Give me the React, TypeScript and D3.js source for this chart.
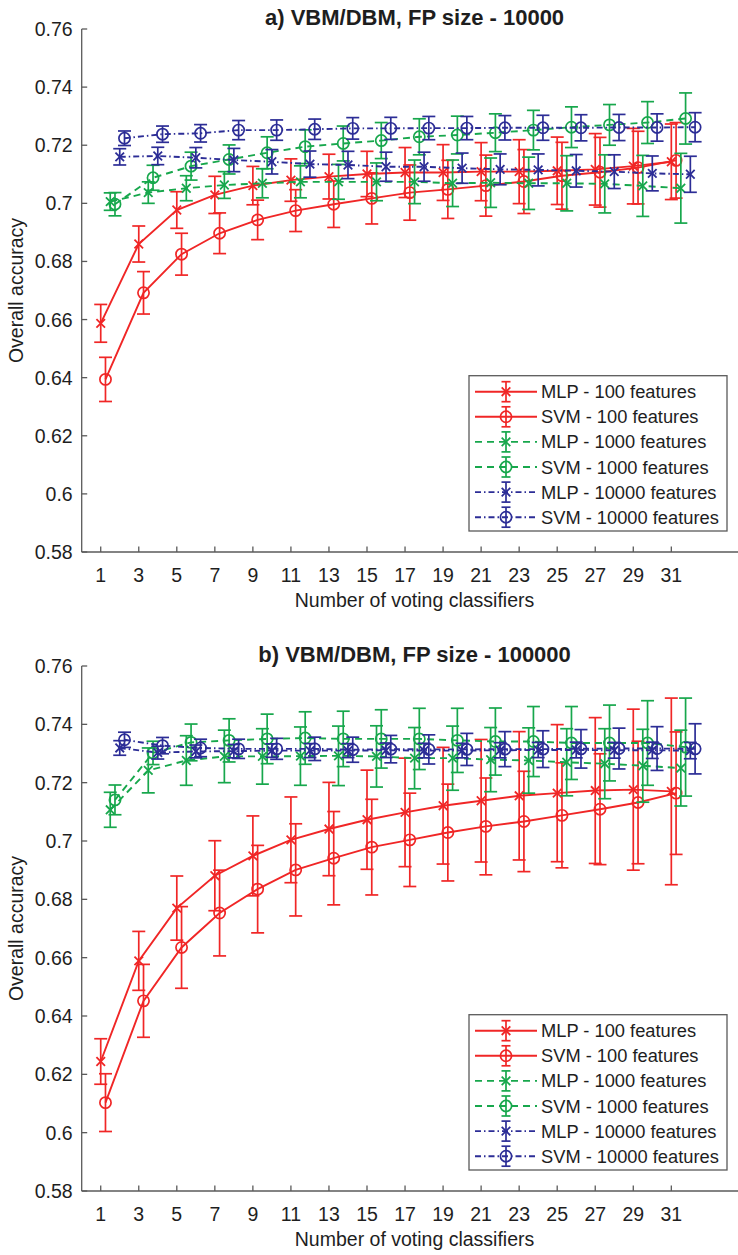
import React from 'react';
import * as d3 from 'd3';

// ---------- data ----------
const CLASSIFIERS = [1, 3, 5, 7, 9, 11, 13, 15, 17, 19, 21, 23, 25, 27, 29, 31];
const Y_TICKS = [0.58, 0.6, 0.62, 0.64, 0.66, 0.68, 0.7, 0.72, 0.74, 0.76];
const SERIES_NAMES = [
  'MLP - 100 features',
  'SVM - 100 features',
  'MLP - 1000 features',
  'SVM - 1000 features',
  'MLP - 10000 features',
  'SVM - 10000 features',
];
const TITLE_A = 'a) VBM/DBM, FP size - 10000';
const TITLE_B = 'b) VBM/DBM, FP size - 100000';
const X_LABEL = 'Number of voting classifiers';
const Y_LABEL = 'Overall accuracy';

// Panel a (FP size 10000)
const A_MLP100 = [0.6587, 0.6860, 0.6977, 0.7029, 0.7061, 0.7080, 0.7092, 0.7101, 0.7106, 0.7106, 0.7109, 0.7109, 0.7112, 0.7117, 0.7128, 0.7143];
const A_MLP100_ERR = [0.0065, 0.0062, 0.0063, 0.0064, 0.0066, 0.0073, 0.0077, 0.0078, 0.0086, 0.0096, 0.0100, 0.0110, 0.0116, 0.0123, 0.0130, 0.0130];
const A_SVM100 = [0.6394, 0.6692, 0.6825, 0.6897, 0.6943, 0.6975, 0.6997, 0.7017, 0.7037, 0.7048, 0.7061, 0.7075, 0.7095, 0.7107, 0.7123, 0.7148];
const A_SVM100_ERR = [0.0076, 0.0073, 0.0072, 0.0070, 0.0068, 0.0072, 0.0080, 0.0088, 0.0095, 0.0100, 0.0105, 0.0110, 0.0115, 0.0120, 0.0125, 0.0130];
const A_MLP1000 = [0.7006, 0.7037, 0.7052, 0.7063, 0.7069, 0.7074, 0.7074, 0.7074, 0.7074, 0.7069, 0.7071, 0.7069, 0.7069, 0.7067, 0.7060, 0.7052];
const A_MLP1000_ERR = [0.0030, 0.0037, 0.0043, 0.0046, 0.0050, 0.0055, 0.0060, 0.0065, 0.0075, 0.0080, 0.0085, 0.0090, 0.0095, 0.0100, 0.0105, 0.0120];
const A_SVM1000 = [0.6997, 0.7088, 0.7128, 0.7151, 0.7174, 0.7195, 0.7206, 0.7216, 0.7229, 0.7235, 0.7243, 0.7252, 0.7262, 0.7270, 0.7278, 0.7292];
const A_SVM1000_ERR = [0.0040, 0.0043, 0.0048, 0.0050, 0.0055, 0.0058, 0.0060, 0.0062, 0.0062, 0.0065, 0.0065, 0.0068, 0.0070, 0.0070, 0.0072, 0.0088];
const A_MLP10000 = [0.7160, 0.7163, 0.7157, 0.7149, 0.7143, 0.7135, 0.7132, 0.7126, 0.7126, 0.7121, 0.7117, 0.7115, 0.7112, 0.7109, 0.7103, 0.7100];
const A_MLP10000_ERR = [0.0028, 0.0030, 0.0035, 0.0040, 0.0042, 0.0045, 0.0047, 0.0050, 0.0050, 0.0052, 0.0053, 0.0055, 0.0056, 0.0058, 0.0060, 0.0062];
const A_SVM10000 = [0.7224, 0.7238, 0.7241, 0.7252, 0.7252, 0.7255, 0.7258, 0.7258, 0.7259, 0.7259, 0.7260, 0.7260, 0.7260, 0.7261, 0.7261, 0.7262];
const A_SVM10000_ERR = [0.0025, 0.0028, 0.0030, 0.0033, 0.0035, 0.0035, 0.0037, 0.0038, 0.0040, 0.0040, 0.0042, 0.0043, 0.0045, 0.0045, 0.0047, 0.0050];

// Panel b (FP size 100000)
const B_MLP100 = [0.6244, 0.6589, 0.6770, 0.6881, 0.6949, 0.7004, 0.7041, 0.7073, 0.7098, 0.7121, 0.7138, 0.7155, 0.7164, 0.7173, 0.7176, 0.7170];
const B_MLP100_ERR = [0.0078, 0.0101, 0.0110, 0.0120, 0.0137, 0.0147, 0.0160, 0.0170, 0.0186, 0.0200, 0.0210, 0.0220, 0.0235, 0.0250, 0.0276, 0.0320];
const B_SVM100 = [0.6103, 0.6452, 0.6635, 0.6753, 0.6835, 0.6901, 0.6941, 0.6979, 0.7004, 0.7029, 0.7050, 0.7067, 0.7088, 0.7109, 0.7132, 0.7164];
const B_SVM100_ERR = [0.0099, 0.0125, 0.0140, 0.0147, 0.0150, 0.0158, 0.0160, 0.0164, 0.0160, 0.0166, 0.0166, 0.0172, 0.0180, 0.0190, 0.0210, 0.0210];
const B_MLP1000 = [0.7107, 0.7242, 0.7276, 0.7290, 0.7290, 0.7291, 0.7292, 0.7290, 0.7284, 0.7284, 0.7279, 0.7276, 0.7270, 0.7265, 0.7258, 0.7250];
const B_MLP1000_ERR = [0.0060, 0.0077, 0.0085, 0.0090, 0.0095, 0.0100, 0.0102, 0.0105, 0.0105, 0.0110, 0.0110, 0.0112, 0.0115, 0.0120, 0.0125, 0.0130];
const B_SVM1000 = [0.7141, 0.7302, 0.7338, 0.7345, 0.7350, 0.7353, 0.7350, 0.7350, 0.7350, 0.7345, 0.7341, 0.7341, 0.7336, 0.7336, 0.7336, 0.7322];
const B_SVM1000_ERR = [0.0051, 0.0040, 0.0063, 0.0074, 0.0085, 0.0090, 0.0095, 0.0100, 0.0105, 0.0110, 0.0115, 0.0120, 0.0125, 0.0130, 0.0145, 0.0168];
const B_MLP10000 = [0.7319, 0.7303, 0.7307, 0.7308, 0.7310, 0.7310, 0.7310, 0.7311, 0.7310, 0.7310, 0.7311, 0.7312, 0.7312, 0.7311, 0.7311, 0.7310];
const B_MLP10000_ERR = [0.0025, 0.0022, 0.0022, 0.0023, 0.0023, 0.0024, 0.0024, 0.0025, 0.0025, 0.0025, 0.0026, 0.0026, 0.0027, 0.0027, 0.0028, 0.0028];
const B_SVM10000 = [0.7347, 0.7327, 0.7319, 0.7316, 0.7316, 0.7316, 0.7313, 0.7315, 0.7314, 0.7314, 0.7315, 0.7315, 0.7316, 0.7317, 0.7317, 0.7316];
const B_SVM10000_ERR = [0.0026, 0.0028, 0.0030, 0.0033, 0.0036, 0.0040, 0.0043, 0.0047, 0.0050, 0.0055, 0.0060, 0.0063, 0.0066, 0.0070, 0.0075, 0.0086];

// ---------- styles ----------
const RED = '#f02626';
const GREEN = '#17a74c';
const BLUE = '#2c2d96';
const STYLES = [
  { color: RED, dash: null, marker: 'x', shift: 0 },
  { color: RED, dash: null, marker: 'o', shift: 0.25 },
  { color: GREEN, dash: '7,5', marker: 'x', shift: 0.5 },
  { color: GREEN, dash: '7,5', marker: 'o', shift: 0.75 },
  { color: BLUE, dash: '6,3,1.5,3', marker: 'x', shift: 1.0 },
  { color: BLUE, dash: '6,3,1.5,3', marker: 'o', shift: 1.25 },
];

const FONT = '"Liberation Sans", Arial, Helvetica, sans-serif';
const AXIS_COLOR = '#5a5a5a';
const TEXT_COLOR = '#1e1e1e';

const W = 738;
const H = 1255;
const X_LEFT = 81.7;
const X_RIGHT = 747.4;
const SW = 1.9;

const fmt = (v: number) => String(+v.toFixed(2));

function Marker({ kind, color }: { kind: string; color: string }) {
  if (kind === 'o') {
    return <circle r={5.6} fill="none" stroke={color} strokeWidth={1.7} />;
  }
  return <path d="M-4.3,-4.3L4.3,4.3M-4.3,4.3L4.3,-4.3" fill="none" stroke={color} strokeWidth={1.8} />;
}

type Panel = {
  title: string;
  y76: number;
  y58: number;
  series: { values: number[]; errors: number[] }[];
};

function PanelView({ p }: { p: Panel }) {
  const x = d3.scaleLinear().domain([0, 35]).range([X_LEFT, X_RIGHT]);
  const y = d3.scaleLinear().domain([0.58, 0.76]).range([p.y58, p.y76]);
  const cx = (X_LEFT + X_RIGHT) / 2;
  const legTop = p.y58 - 176.3;
  const legLeft = 469;
  const legW = 258;
  const legH = 155.3;
  const rowGap = 25.1;
  const cap = 6.5;

  return (
    <g>
      <text x={cx} y={p.y76 - 4} textAnchor="middle" fontFamily={FONT} fontWeight="bold" fontSize={22} fill={TEXT_COLOR}>
        {p.title}
      </text>
      {/* axes */}
      <line x1={X_LEFT} x2={X_LEFT} y1={p.y76} y2={p.y58} stroke={AXIS_COLOR} strokeWidth={1.3} />
      <line x1={X_LEFT} x2={X_RIGHT} y1={p.y58} y2={p.y58} stroke={AXIS_COLOR} strokeWidth={1.3} />
      {Y_TICKS.map((t) => (
        <g key={'yt' + t}>
          <line x1={X_LEFT} x2={X_LEFT + 5.5} y1={y(t)} y2={y(t)} stroke={AXIS_COLOR} strokeWidth={1.3} />
          <text x={X_LEFT - 9} y={y(t)} dy="0.36em" textAnchor="end" fontFamily={FONT} fontSize={19.5} fill={TEXT_COLOR}>
            {fmt(t)}
          </text>
        </g>
      ))}
      {CLASSIFIERS.map((t) => (
        <g key={'xt' + t}>
          <line x1={x(t)} x2={x(t)} y1={p.y58} y2={p.y58 - 5.5} stroke={AXIS_COLOR} strokeWidth={1.3} />
          <text x={x(t)} y={p.y58 + 30} textAnchor="middle" fontFamily={FONT} fontSize={19.5} fill={TEXT_COLOR}>
            {t}
          </text>
        </g>
      ))}
      <text x={cx} y={p.y58 + 55} textAnchor="middle" fontFamily={FONT} fontSize={19.5} fill={TEXT_COLOR}>
        {X_LABEL}
      </text>
      <text
        transform={`translate(22.5,${(p.y58 + p.y76) / 2}) rotate(-90)`}
        textAnchor="middle"
        fontFamily={FONT}
        fontSize={19.5}
        fill={TEXT_COLOR}
      >
        {Y_LABEL}
      </text>

      {/* series */}
      {p.series.map((s, i) => {
        const st = STYLES[i];
        const pts: [number, number][] = CLASSIFIERS.map((c, j) => [x(c + st.shift), y(s.values[j])]);
        const line = d3.line()(pts) || '';
        return (
          <g key={'s' + i}>
            <path d={line} fill="none" stroke={st.color} strokeWidth={SW} strokeDasharray={st.dash || undefined} />
            {CLASSIFIERS.map((c, j) => {
              const px = x(c + st.shift);
              const top = y(s.values[j] + s.errors[j]);
              const bot = y(s.values[j] - s.errors[j]);
              return (
                <g key={'e' + j} stroke={st.color} strokeWidth={1.7}>
                  <line x1={px} x2={px} y1={top} y2={bot} />
                  <line x1={px - cap} x2={px + cap} y1={top} y2={top} />
                  <line x1={px - cap} x2={px + cap} y1={bot} y2={bot} />
                </g>
              );
            })}
            {pts.map((pt, j) => (
              <g key={'m' + j} transform={`translate(${pt[0]},${pt[1]})`}>
                <Marker kind={st.marker} color={st.color} />
              </g>
            ))}
          </g>
        );
      })}

      {/* legend */}
      <rect x={legLeft} y={legTop} width={legW} height={legH} fill="#ffffff" stroke={AXIS_COLOR} strokeWidth={1.3} />
      {SERIES_NAMES.map((name, i) => {
        const st = STYLES[i];
        const ry = legTop + 16 + i * rowGap;
        const mx = 506;
        return (
          <g key={'l' + i}>
            <line x1={475} x2={537} y1={ry} y2={ry} stroke={st.color} strokeWidth={SW} strokeDasharray={st.dash || undefined} />
            <g stroke={st.color} strokeWidth={1.7}>
              <line x1={mx} x2={mx} y1={ry - 10} y2={ry + 10} />
              <line x1={mx - 4.5} x2={mx + 4.5} y1={ry - 10} y2={ry - 10} />
              <line x1={mx - 4.5} x2={mx + 4.5} y1={ry + 10} y2={ry + 10} />
            </g>
            <g transform={`translate(${mx},${ry})`}>
              <Marker kind={st.marker} color={st.color} />
            </g>
            <text x={541} y={ry} dy="0.36em" fontFamily={FONT} fontSize={18.3} fill={TEXT_COLOR}>
              {name}
            </text>
          </g>
        );
      })}
    </g>
  );
}

const PANEL_A: Panel = {
  title: TITLE_A,
  y76: 29,
  y58: 552,
  series: [
    { values: A_MLP100, errors: A_MLP100_ERR },
    { values: A_SVM100, errors: A_SVM100_ERR },
    { values: A_MLP1000, errors: A_MLP1000_ERR },
    { values: A_SVM1000, errors: A_SVM1000_ERR },
    { values: A_MLP10000, errors: A_MLP10000_ERR },
    { values: A_SVM10000, errors: A_SVM10000_ERR },
  ],
};

const PANEL_B: Panel = {
  title: TITLE_B,
  y76: 666,
  y58: 1191,
  series: [
    { values: B_MLP100, errors: B_MLP100_ERR },
    { values: B_SVM100, errors: B_SVM100_ERR },
    { values: B_MLP1000, errors: B_MLP1000_ERR },
    { values: B_SVM1000, errors: B_SVM1000_ERR },
    { values: B_MLP10000, errors: B_MLP10000_ERR },
    { values: B_SVM10000, errors: B_SVM10000_ERR },
  ],
};

export default function App() {
  return (
    <svg
      width={W}
      height={H}
      viewBox={`0 0 ${W} ${H}`}
      style={{ position: 'absolute', left: 0, top: 0, background: '#ffffff' }}
    >
      <rect x={0} y={0} width={W} height={H} fill="#ffffff" />
      <PanelView p={PANEL_A} />
      <PanelView p={PANEL_B} />
    </svg>
  );
}
